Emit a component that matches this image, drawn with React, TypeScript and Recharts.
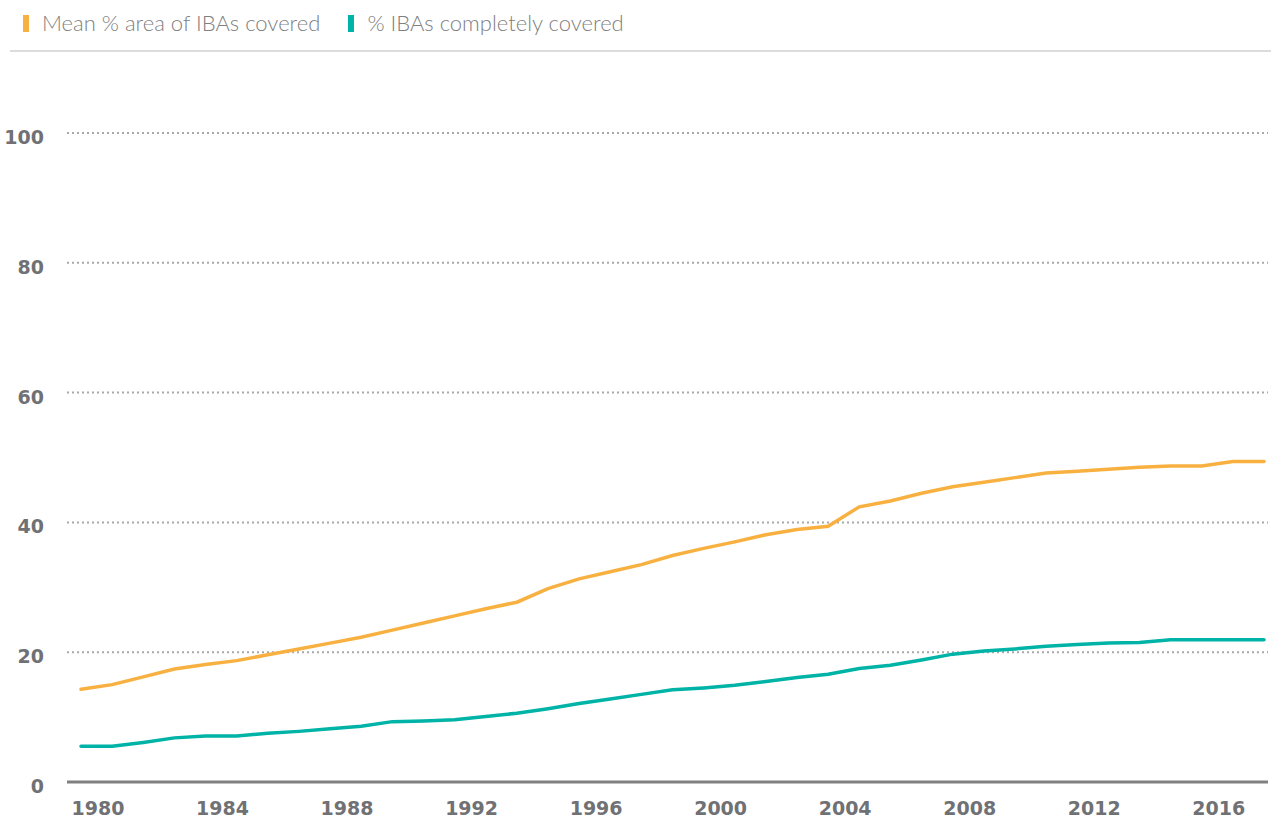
import React from 'react';
import { LineChart, Line, XAxis, YAxis, CartesianGrid } from 'recharts';

const YEARS = [
  1980, 1981, 1982, 1983, 1984, 1985, 1986, 1987, 1988, 1989,
  1990, 1991, 1992, 1993, 1994, 1995, 1996, 1997, 1998, 1999,
  2000, 2001, 2002, 2003, 2004, 2005, 2006, 2007, 2008, 2009,
  2010, 2011, 2012, 2013, 2014, 2015, 2016, 2017, 2018,
];

const MEAN_AREA = [
  14.3, 15.0, 16.2, 17.4, 18.1, 18.7, 19.6, 20.5, 21.4, 22.3,
  23.4, 24.5, 25.6, 26.7, 27.7, 29.8, 31.3, 32.4, 33.5, 34.9,
  36.0, 37.0, 38.1, 38.9, 39.4, 42.4, 43.3, 44.5, 45.5, 46.2,
  46.9, 47.6, 47.9, 48.2, 48.5, 48.7, 48.7, 49.4, 49.4,
];

const COMPLETELY_COVERED = [
  5.5, 5.5, 6.1, 6.8, 7.1, 7.1, 7.5, 7.8, 8.2, 8.6,
  9.3, 9.4, 9.6, 10.1, 10.6, 11.3, 12.1, 12.8, 13.5, 14.2,
  14.5, 14.9, 15.5, 16.1, 16.6, 17.5, 18.0, 18.8, 19.7, 20.2,
  20.5, 20.9, 21.2, 21.4, 21.5, 21.9, 21.9, 21.9, 21.9,
];

const X_TICKS = [1980, 1984, 1988, 1992, 1996, 2000, 2004, 2008, 2012, 2016];
const Y_TICKS = [0, 20, 40, 60, 80, 100];

const ORANGE = '#F8B140';
const TEAL = '#00B3A7';
const TICK_GRAY = '#707174';

const data = YEARS.map((year, i) => ({
  year,
  mean: MEAN_AREA[i],
  complete: COMPLETELY_COVERED[i],
}));

// year labels sit a little right of their data point, as in the source
const XTick = ({ x, y, payload }: any) => (
  <text
    x={x + 17}
    y={y}
    dy={33}
    textAnchor="middle"
    fill={TICK_GRAY}
    fontFamily="'DejaVu Sans', sans-serif"
    fontWeight={700}
    fontSize={19}
  >
    {payload.value}
  </text>
);

const YTick = ({ x, y, payload }: any) => (
  <text
    x={x}
    y={y}
    dy={11}
    textAnchor="end"
    fill={TICK_GRAY}
    fontFamily="'DejaVu Sans', sans-serif"
    fontWeight={700}
    fontSize={19}
  >
    {payload.value}
  </text>
);

const LegendItem = ({ color, label }: { color: string; label: string }) => (
  <div style={{ display: 'flex', alignItems: 'center', marginRight: 28 }}>
    <div style={{ width: 6, height: 17, backgroundColor: color, marginRight: 13 }} />
    <span>{label}</span>
  </div>
);

const App: React.FC = () => {
  return (
    <div
      style={{
        position: 'absolute',
        left: 0,
        top: 0,
        width: 1271,
        height: 818,
        background: '#fff',
        overflow: 'hidden',
      }}
    >
      <div
        style={{
          position: 'absolute',
          left: 23,
          top: 9,
          display: 'flex',
          fontFamily: 'Lato, sans-serif',
          fontWeight: 300,
          fontSize: 22,
          color: '#808080',
          lineHeight: '28px',
        }}
      >
        <LegendItem color={ORANGE} label="Mean % area of IBAs covered" />
        <LegendItem color={TEAL} label="% IBAs completely covered" />
      </div>
      <div
        style={{
          position: 'absolute',
          left: 10,
          top: 50,
          width: 1261,
          height: 2,
          backgroundColor: '#dcdcdc',
        }}
      />
      <LineChart
        width={1271}
        height={818}
        data={data}
        margin={{ top: 133, right: 3, bottom: 0, left: 0 }}
      >
        <CartesianGrid
          vertical={false}
          stroke="#a8a8a8"
          strokeWidth={2}
          strokeDasharray="2 3"
        />
        <XAxis
          dataKey="year"
          type="number"
          domain={[1980, 2018]}
          ticks={X_TICKS}
          padding={{ left: 14, right: 4 }}
          height={36}
          axisLine={{ stroke: '#808080', strokeWidth: 3 }}
          tickLine={false}
          tickSize={0}
          tickMargin={0}
          tick={<XTick />}
          interval={0}
        />
        <YAxis
          domain={[0, 100]}
          ticks={Y_TICKS}
          width={67}
          axisLine={false}
          tickLine={false}
          tickSize={0}
          tickMargin={23}
          tick={<YTick />}
          interval={0}
        />
        <Line
          type="linear"
          dataKey="mean"
          stroke={ORANGE}
          strokeWidth={3.5}
          strokeLinecap="round"
          dot={false}
          isAnimationActive={false}
        />
        <Line
          type="linear"
          dataKey="complete"
          stroke={TEAL}
          strokeWidth={3.5}
          strokeLinecap="round"
          dot={false}
          isAnimationActive={false}
        />
      </LineChart>
    </div>
  );
};

export default App;
